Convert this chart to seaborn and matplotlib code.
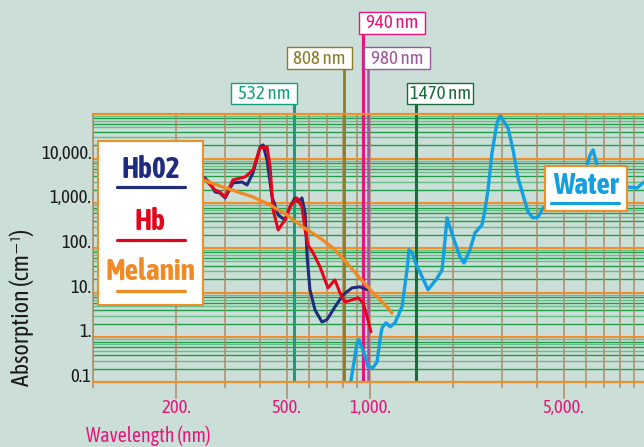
import numpy as np
import pandas as pd
import matplotlib
matplotlib.use("Agg")
import matplotlib.pyplot as plt
import seaborn as sns
from matplotlib import font_manager as fm
from matplotlib.font_manager import FontProperties
from matplotlib.patches import Rectangle
from matplotlib.lines import Line2D
from matplotlib.ticker import FixedLocator, FixedFormatter, NullFormatter

# ---------------- data ----------------
hbo2_nm = [250, 265, 276, 287, 300, 320, 345, 360, 378, 401, 411, 425, 443, 466, 493,
           514, 536, 550, 568, 583, 593, 607, 633, 671, 700, 747, 799, 861, 920, 976]
hbo2_abs = [3900, 2860, 1800, 1710, 1320, 2860, 3010, 2580, 4790, 18300, 20300, 9350, 1390,
            550, 425, 830, 1320, 1075, 1320, 610, 63, 11.6, 4.1, 2.2, 2.5, 4.8, 8.9, 12.8,
            13.5, 11.6]

hb_nm = [250, 265, 276, 287, 300, 320, 354, 378, 401, 425, 436, 447, 466, 493, 514, 545,
         568, 583, 597, 623, 660, 705, 747, 779, 812, 861, 905, 944, 976, 1008]
hb_abs = [3700, 2580, 1990, 1800, 1390, 3340, 3900, 5590, 17400, 18300, 6520, 712, 254,
          425, 830, 1320, 830, 254, 117, 78, 38, 12.8, 19.3, 9.9, 6.2, 6.9, 7.7, 5.9, 2.9,
          1.33]

melanin_nm = [250, 287, 378, 436, 501, 572, 660, 735, 826, 920, 1026, 1152, 1200]
melanin_abs = [3340, 2450, 1390, 920, 550, 296, 168, 100, 46, 21, 9.9, 4.8, 3.5]

water_nm = [854, 898, 912, 951, 984, 1025, 1060, 1087, 1105, 1143, 1181, 1231, 1305, 1360,
            1383, 1418, 1478, 1515, 1620, 1746, 1820, 1866, 1897, 1994, 2113, 2185, 2296,
            2393, 2537, 2601, 2667, 2756, 2874, 2947, 3021, 3150, 3284, 3423, 3568, 3719,
            3877, 4042, 4212, 4853, 5729, 6227, 6385, 6598, 7053, 7664, 8540, 9204, 9754]
water_abs = [0.11, 0.75, 0.88, 0.45, 0.22, 0.21, 0.28, 0.88, 1.63, 2.11, 1.72, 2.11, 4.8,
             32, 91, 78, 38, 29, 11.6, 21, 32, 152, 471, 177, 63, 46, 91, 218, 329, 712,
             1990, 13400, 62900, 90200, 73400, 48600, 15700, 3700, 1540, 642, 471, 496, 789,
             1190, 1990, 12100, 15700, 7230, 1990, 1540, 2330, 2210, 3010]

laser_nm = [532, 808, 940, 980, 1470]
laser_labels = ["532 nm", "808 nm", "940 nm", "980 nm", "1470 nm"]

x_major = [200, 500, 1000, 5000]
x_major_labels = ["200.", "500.", "1,000.", "5,000."]
x_minor = [100, 300, 400, 600, 700, 800, 900, 2000, 3000, 4000, 6000, 7000, 8000, 9000, 10000]
y_major = [0.1, 1, 10, 100, 1000, 10000]
y_major_labels = ["0.1", "1.", "10.", "100.", "1,000.", "10,000."]

# ---------------- style ----------------
sns.set_theme(style="white")
plt.rcParams["font.family"] = ["Liberation Sans", "DejaVu Sans"]

installed = {f.name for f in fm.fontManager.ttflist}
COND = next((n for n in ["Asap Condensed", "Roboto Condensed", "Archivo Narrow"] if n in installed),
            "Liberation Sans")
FAMS = [COND, "DejaVu Sans"]
FP = FontProperties(family=FAMS, weight="normal")
FPB = FontProperties(family=FAMS, weight="bold")

BG = "#cbdfd8"
BROWN = "#a88c6c"
ORANGE = "#ef8f2c"
GREEN_D = "#1f9d48"
GREEN_L = "#66bf86"
PINK = "#e5187d"
NAVY = "#1f2b7b"
RED = "#e2061c"
MEL = "#f08a24"
WATER = "#139fe0"
laser_colors = ["#14a07e", "#8c7b2c", "#e5147f", "#a0539e", "#1b6b3f"]

W, H = 644, 447
fig = plt.figure(figsize=(W / 100, H / 100), dpi=100, facecolor=BG)
renderer = fig.canvas.get_renderer()


def fx(px):
    return px / W


def fy(py):
    return 1 - py / H


def fp(base, size):
    p = base.copy()
    p.set_size(size)
    return p


def fit(base, text, target_px):
    t = fig.text(0, 0, text, fontproperties=fp(base, 10))
    w = t.get_window_extent(renderer).width
    t.remove()
    return 10 * target_px / w


TS = fit(FP, "1,000.", 41)
LS = fit(FP, "940 nm", 52)
BS = fit(FPB, "Melanin", 89)
XS = fit(FP, "Wavelength (nm)", 125)
YS = fit(FP, "Absorption (cm\u207b\u00b9)", 158)

ax = fig.add_axes([fx(93), fy(382), (647 - 93) / W, (382 - 114) / H])
ax.set_facecolor(BG)
ax.set_xscale("log")
ax.set_yscale("log")
ax.set_xlim(100, 10000)
ax.set_ylim(0.1, 1e5)

ax.set_axisbelow(True)
ax.xaxis.set_major_locator(FixedLocator(x_major))
ax.xaxis.set_major_formatter(FixedFormatter(x_major_labels))
ax.xaxis.set_minor_locator(FixedLocator(x_minor))
ax.xaxis.set_minor_formatter(NullFormatter())
ax.xaxis.grid(True, which="both", color=BROWN, lw=1.1)
ax.yaxis.grid(False)
ax.yaxis.set_major_locator(FixedLocator(y_major))
ax.yaxis.set_major_formatter(FixedFormatter(y_major_labels))
ax.yaxis.set_minor_locator(FixedLocator([]))

for d in range(-1, 5):
    for k in range(2, 10):
        ax.axhline(k * 10.0 ** d, color=GREEN_D if k % 2 == 0 else GREEN_L, lw=1.0, zorder=0.3)
for d in range(-1, 6):
    ax.axhline(10.0 ** d, color=ORANGE, lw=1.5, zorder=0.9, clip_on=False)

for s in ["top", "bottom"]:
    ax.spines[s].set_color(ORANGE)
    ax.spines[s].set_linewidth(1.5)
ax.spines["left"].set_color(BROWN)
ax.spines["left"].set_linewidth(1.1)
ax.spines["right"].set_visible(False)

ax.tick_params(axis="x", which="major", length=12, width=1.1, color=BROWN,
               labelcolor=PINK, pad=0.5, bottom=True)
ax.tick_params(axis="x", which="minor", length=4.5, width=1.1, color=BROWN, bottom=True)
ax.tick_params(axis="y", which="both", length=0, labelcolor="#1a1a1a", pad=1, left=True)
for t in ax.xaxis.get_major_ticks():
    t.label1.set_fontproperties(fp(FP, TS))
for t in ax.yaxis.get_major_ticks():
    t.label1.set_fontproperties(fp(FP, TS))
    t.label1.set_verticalalignment("baseline")

# laser lines and labels
boxes = [(231, 83, 297, 104), (287, 47, 352, 69), (359, 12, 425, 34),
         (364, 47, 430, 69), (407, 83, 473, 104)]
lws = [2.2, 2.0, 2.3, 1.8, 2.2]
for wl, lab, col, (x0, y0, x1, y1), lw in zip(laser_nm, laser_labels, laser_colors, boxes, lws):
    ymax = (382 - y1) / (382 - 114)
    ax.axvline(wl, ymin=0.006, ymax=ymax, color=col, lw=lw, zorder=2.5, clip_on=False)
    fig.add_artist(Rectangle((fx(x0), fy(y1)), fx(x1) - fx(x0), fy(y0) - fy(y1),
                             transform=fig.transFigure, facecolor="white", edgecolor=col,
                             lw=1.0, zorder=5))
    fig.text(fx((x0 + x1) / 2), fy((y0 + y1) / 2 + 0.5), lab, color=col,
             fontproperties=fp(FP, LS), ha="center", va="center", zorder=6)

# curves
curves = [
    (hbo2_nm, hbo2_abs, NAVY, 2.2),
    (hb_nm, hb_abs, RED, 2.2),
    (melanin_nm, melanin_abs, MEL, 2.4),
    (water_nm, water_abs, WATER, 2.4),
]
for xs, ys, col, lw in curves:
    df = pd.DataFrame({"nm": xs, "abs": ys})
    sns.lineplot(data=df, x="nm", y="abs", ax=ax, color=col, lw=lw, estimator=None,
                 sort=False, zorder=3)
ax.set_xlabel("")
ax.set_ylabel("")

# legend boxes
fig.add_artist(Rectangle((fx(98), fy(305)), fx(203) - fx(98), fy(141) - fy(305),
                         transform=fig.transFigure, facecolor="white", edgecolor=ORANGE,
                         lw=1.5, zorder=7))
for txt, col, ty, uy in [("Hb02", NAVY, 170, 187), ("Hb", RED, 222, 240), ("Melanin", MEL, 272, 291)]:
    fig.text(fx(150.5), fy(ty), txt, color=col, fontproperties=fp(FPB, BS),
             ha="center", va="center", zorder=8)
    fig.add_artist(Line2D([fx(117), fx(185)], [fy(uy), fy(uy)], transform=fig.transFigure,
                          color=col, lw=2.3, zorder=8))

fig.add_artist(Rectangle((fx(545), fy(211)), fx(627) - fx(545), fy(166) - fy(211),
                         transform=fig.transFigure, facecolor="white", edgecolor=ORANGE,
                         lw=1.5, zorder=7))
fig.text(fx(586), fy(185), "Water", color=WATER, fontproperties=fp(FPB, BS),
         ha="center", va="center", zorder=8)
fig.add_artist(Line2D([fx(551), fx(619)], [fy(203), fy(203)], transform=fig.transFigure,
                      color=WATER, lw=2.3, zorder=8))

# axis titles
fig.text(fx(86), fy(436), "Wavelength (nm)", color=PINK, fontproperties=fp(FP, XS),
         ha="left", va="center")
fig.text(fx(22), fy(307), "Absorption (cm\u207b\u00b9)", color="#1a1a1a",
         fontproperties=fp(FP, YS), rotation=90, ha="center", va="center")

fig.savefig("out.png", dpi=100, facecolor=BG)
